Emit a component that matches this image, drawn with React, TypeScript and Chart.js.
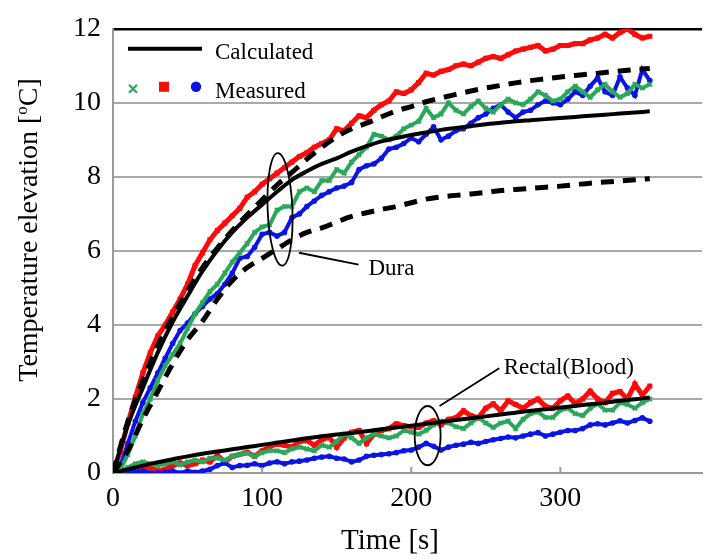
import React, { useEffect, useRef } from "react";
import { Chart, registerables } from "chart.js";

Chart.register(...registerables);

const SERIF = "'Liberation Serif', 'Times New Roman', Times, serif";
Chart.defaults.font.family = SERIF;

// ---- time grids ----
const tMeas = [
  0, 5, 10, 15, 20, 25, 30, 35, 40, 45,
  50, 55, 60, 65, 70, 75, 80, 85, 90, 95,
  100, 105, 110, 115, 120, 125, 130, 135, 140, 145,
  150, 155, 160, 165, 170, 175, 180, 185, 190, 195,
  200, 205, 210, 215, 220, 225, 230, 235, 240, 245,
  250, 255, 260, 265, 270, 275, 280, 285, 290, 295,
  300, 305, 310, 315, 320, 325, 330, 335, 340, 345,
  350, 355, 360,
];
const tCalc = [
  0, 10, 20, 30, 40, 50, 60, 70, 80, 90,
  100, 110, 120, 130, 140, 150, 160, 170, 180, 190,
  200, 210, 220, 230, 240, 250, 260, 270, 280, 290,
  300, 310, 320, 330, 340, 350, 360,
];

// ---- calculated (black) ----
const calcDura = [
  0, 1.3, 2.3, 3.25, 4.08, 4.78, 5.45, 6.02, 6.5, 6.9,
  7.25, 7.6, 7.92, 8.15, 8.35, 8.5, 8.68, 8.83, 8.96, 9.05,
  9.13, 9.2, 9.27, 9.32, 9.37, 9.42, 9.46, 9.5, 9.53, 9.56,
  9.59, 9.62, 9.65, 9.68, 9.71, 9.74, 9.77,
];
const calcDuraUpper = [
  0, 1.4, 2.5, 3.45, 4.22, 4.92, 5.55, 6.08, 6.55, 6.98,
  7.38, 7.78, 8.12, 8.48, 8.8, 9.08, 9.3, 9.45, 9.62, 9.78,
  9.9, 10.03, 10.13, 10.23, 10.32, 10.4, 10.47, 10.54, 10.6, 10.65,
  10.7, 10.74, 10.78, 10.82, 10.86, 10.9, 10.93,
];
const calcDuraLower = [
  0, 0.6, 1.45, 2.2, 2.95, 3.6, 4.1, 4.7, 5.2, 5.55,
  5.8, 6.05, 6.3, 6.5, 6.62, 6.78, 6.93, 7.03, 7.12, 7.2,
  7.3, 7.4, 7.46, 7.5, 7.54, 7.58, 7.63, 7.66, 7.69, 7.72,
  7.75, 7.79, 7.83, 7.86, 7.89, 7.92, 7.95,
];
const calcRectal = [
  0, 0.1, 0.2, 0.29, 0.37, 0.45, 0.52, 0.58, 0.64, 0.7,
  0.76, 0.82, 0.88, 0.94, 0.99, 1.04, 1.08, 1.13, 1.18, 1.23,
  1.28, 1.33, 1.38, 1.43, 1.48, 1.53, 1.58, 1.63, 1.68, 1.72,
  1.77, 1.81, 1.86, 1.9, 1.95, 1.99, 2.04,
];

// ---- measured ----
const redDura = [
  0, 0.6, 1.35, 2.05, 2.7, 3.25, 3.7, 4.0, 4.35, 4.7,
  5.1, 5.6, 5.95, 6.3, 6.55, 6.75, 6.95, 7.15, 7.45, 7.6,
  7.8, 7.95, 8.1, 8.25, 8.4, 8.55, 8.65, 8.8, 8.9, 9.0,
  9.3, 9.25, 9.45, 9.65, 9.6, 9.8, 9.95, 10.05, 10.3, 10.25,
  10.35, 10.55, 10.8, 10.75, 10.85, 10.9, 11.0, 11.05, 11.0, 11.1,
  11.2, 11.25, 11.2, 11.3, 11.4, 11.45, 11.5, 11.55, 11.4, 11.45,
  11.55, 11.55, 11.6, 11.6, 11.7, 11.75, 11.85, 11.75, 11.9, 12.0,
  11.85, 11.75, 11.8,
];
const greenDura = [
  0, 0.1, 0.5, 1.0, 1.6, 2.0, 2.5, 2.9, 3.2, 3.5,
  3.9, 4.3, 4.6, 4.9, 5.1, 5.4, 5.7, 5.95, 6.2, 6.5,
  6.65, 6.7, 7.1, 7.2, 7.2, 7.6, 7.7, 7.6, 7.9, 7.9,
  8.2, 8.1, 8.4, 8.6, 8.8, 9.15, 9.1, 9.0, 9.1, 9.3,
  9.4, 9.5, 9.85, 9.6, 9.7, 10.0, 9.8, 9.7, 9.9, 10.05,
  9.85, 9.75, 9.95, 10.1, 10.0, 9.95, 10.1, 10.3, 10.2, 10.05,
  10.1, 10.3, 10.45, 10.3, 10.15, 10.35, 10.5, 10.3, 10.15, 10.25,
  10.5, 10.4, 10.5,
];
const blueDura = [
  0, 0.2, 0.8, 1.4, 1.9, 2.3, 2.7, 3.1, 3.5, 3.85,
  4.05, 4.3, 4.5, 4.7, 4.85, 5.1, 5.4, 5.8, 5.85, 6.1,
  6.45, 6.5, 6.4, 6.5, 6.9, 7.0, 7.2, 7.35, 7.5, 7.6,
  7.7, 7.75, 7.85, 8.2, 8.3, 8.35, 8.5, 8.75, 8.8, 8.9,
  9.05, 8.95, 9.15, 9.35, 9.0, 9.1, 9.25, 9.3, 9.45, 9.6,
  9.7, 9.85, 9.95, 9.75, 9.6, 9.75, 9.8, 9.95, 10.05, 10.0,
  9.95, 10.1, 10.3, 10.2, 10.45, 10.67, 10.3, 10.2, 10.7, 10.4,
  10.2, 10.9, 10.6,
];
const redRectal = [
  0, 0, 0, 0.05, 0.1, 0.15, 0.05, 0.1, 0.2, 0.27,
  0.2, 0.25, 0.35, 0.3, 0.48, 0.3, 0.45, 0.5, 0.56, 0.45,
  0.6, 0.7, 0.8, 0.75, 0.7, 0.85, 0.88, 0.75, 0.9, 0.97,
  0.7, 0.95, 1.1, 1.15, 0.8, 1.05, 1.15, 1.2, 1.33, 1.28,
  1.25, 1.23, 1.35, 1.41, 1.3, 1.45, 1.49, 1.68, 1.55, 1.49,
  1.75, 1.87, 1.68, 1.95, 1.85, 1.75, 1.9, 2.0, 1.8, 1.75,
  1.95, 2.08, 1.87, 2.0, 2.21, 2.0, 1.9, 2.15, 2.2, 2.0,
  2.4, 2.1, 2.35,
];
const greenRectal = [
  0, 0.05, 0.15, 0.25, 0.3, 0.25, 0.2, 0.25, 0.3, 0.22,
  0.3, 0.35, 0.3, 0.4, 0.4, 0.35, 0.45, 0.5, 0.53, 0.45,
  0.55, 0.6, 0.6, 0.55, 0.65, 0.7, 0.65, 0.6, 0.75, 0.7,
  0.85, 1.05, 0.95, 0.8, 0.95, 1.05, 1.0, 0.95, 1.0, 1.15,
  1.1, 1.05, 1.15, 1.3, 1.4, 1.35, 1.25, 1.2, 1.35, 1.5,
  1.35, 1.23, 1.35, 1.4, 1.2, 1.45, 1.6, 1.65, 1.5, 1.5,
  1.7, 1.75, 1.6, 1.55, 1.75, 1.87, 1.7, 1.7, 1.9, 1.85,
  1.75, 1.9, 2.0,
];
const blueRectal = [
  0, 0, 0.05, 0.02, 0.05, 0, 0, 0.02, 0.05, 0,
  0.05, 0.02, 0.05, 0.1, 0.2, 0.27, 0.15, 0.2, 0.21, 0.25,
  0.2, 0.27, 0.3, 0.25, 0.3, 0.32, 0.35, 0.4, 0.43, 0.45,
  0.4, 0.38, 0.3, 0.35, 0.45, 0.48, 0.5, 0.52, 0.55, 0.6,
  0.62, 0.7, 0.8, 0.72, 0.62, 0.7, 0.75, 0.78, 0.83, 0.8,
  0.85, 0.9, 0.93, 0.97, 0.95, 1.0, 1.05, 1.09, 1.0, 1.05,
  1.1, 1.15, 1.15, 1.2, 1.3, 1.33, 1.3, 1.35, 1.41, 1.35,
  1.42, 1.49, 1.4,
];

// ---- ticks & text ----
const xTickValues = [0, 100, 200, 300];
const yTickValues = [0, 2, 4, 6, 8, 10, 12];
const xTitle = "Time [s]";
const yTitleParts = ["Temperature elevation [", "o", "C]"];
const legendCalculated = "Calculated";
const legendMeasured = "Measured";
const labelDura = "Dura";
const labelRectal = "Rectal(Blood)";

const RED = "#ff0a0a";
const GREEN = "#2aa85a";
const BLUE = "#0a14e6";

const pts = (xs: number[], ys: number[]) => xs.map((x, i) => ({ x, y: ys[i] }));

const overlay = {
  id: "overlay",
  afterDatasetsDraw(chart: any) {
    const { ctx, chartArea: ca, scales } = chart;
    const xs = scales.x;
    const ys = scales.y;
    const X = (v: number) => xs.getPixelForValue(v);
    const Y = (v: number) => ys.getPixelForValue(v);
    ctx.save();

    // inner tick marks on x axis
    ctx.strokeStyle = "#9a9a9a";
    ctx.lineWidth = 2;
    xTickValues.forEach((v) => {
      if (v === 0) return;
      ctx.beginPath();
      ctx.moveTo(X(v), ca.bottom);
      ctx.lineTo(X(v), ca.bottom - 6);
      ctx.stroke();
    });

    // legend
    const lx = ca.left;
    const ly = ca.top;
    ctx.strokeStyle = "#000";
    ctx.lineWidth = 4;
    ctx.beginPath();
    ctx.moveTo(lx + 15, ly + 20);
    ctx.lineTo(lx + 89, ly + 20);
    ctx.stroke();
    ctx.fillStyle = "#000";
    ctx.font = `23px ${SERIF}`;
    ctx.textAlign = "left";
    ctx.textBaseline = "alphabetic";
    ctx.fillText(legendCalculated, lx + 102, ly + 30);
    ctx.fillText(legendMeasured, lx + 102, ly + 69);
    // green x
    ctx.strokeStyle = GREEN;
    ctx.lineWidth = 2.2;
    const gx = lx + 20, gy = ly + 60;
    ctx.beginPath();
    ctx.moveTo(gx - 4, gy - 4); ctx.lineTo(gx + 4, gy + 4);
    ctx.moveTo(gx + 4, gy - 4); ctx.lineTo(gx - 4, gy + 4);
    ctx.stroke();
    // red square
    ctx.fillStyle = RED;
    ctx.fillRect(lx + 46, ly + 53, 10, 10);
    // blue circle
    ctx.fillStyle = BLUE;
    ctx.beginPath();
    ctx.arc(lx + 83, ly + 58, 5.2, 0, Math.PI * 2);
    ctx.fill();

    // annotations
    ctx.strokeStyle = "#000";
    ctx.lineWidth = 1.8;
    const ellipse = (t: number, v: number, dt: number, dv: number, rot: number) => {
      const cx = X(t), cy = Y(v);
      const rx = X(t + dt) - cx;
      const ry = cy - Y(v + dv);
      ctx.beginPath();
      ctx.ellipse(cx, cy, rx, ry, rot, 0, Math.PI * 2);
      ctx.stroke();
    };
    const line = (t1: number, v1: number, t2: number, v2: number) => {
      ctx.beginPath();
      ctx.moveTo(X(t1), Y(v1));
      ctx.lineTo(X(t2), Y(v2));
      ctx.stroke();
    };
    ellipse(112, 7.12, 8.3, 1.52, -0.04);
    line(124.7, 5.95, 164.7, 5.63);
    ellipse(211, 1.01, 8.7, 0.8, 0);
    line(219, 1.81, 259, 2.83);
    ctx.fillStyle = "#000";
    ctx.font = `23px ${SERIF}`;
    ctx.fillText(labelDura, X(171.3), Y(5.36));
    ctx.fillText(labelRectal, X(262), Y(2.67));

    // x title
    ctx.font = `29px ${SERIF}`;
    ctx.textAlign = "center";
    ctx.fillText(xTitle, 390, 549);

    // y title (rotated, with superscript)
    ctx.translate(37, 230);
    ctx.rotate(-Math.PI / 2);
    ctx.textAlign = "left";
    const big = `28px ${SERIF}`;
    const small = `17px ${SERIF}`;
    ctx.font = big;
    const w0 = ctx.measureText(yTitleParts[0]).width;
    const w2 = ctx.measureText(yTitleParts[2]).width;
    ctx.font = small;
    const w1 = ctx.measureText(yTitleParts[1]).width;
    let sx = -(w0 + w1 + w2) / 2;
    ctx.font = big;
    ctx.fillText(yTitleParts[0], sx, 0);
    sx += w0;
    ctx.font = small;
    ctx.fillText(yTitleParts[1], sx, -10);
    sx += w1;
    ctx.font = big;
    ctx.fillText(yTitleParts[2], sx, 0);

    ctx.restore();
  },
};

export default function App() {
  const canvasRef = useRef<HTMLCanvasElement | null>(null);

  useEffect(() => {
    if (!canvasRef.current) return;
    const measured = (data: number[], color: string, style: string, r: number, bw: number) => ({
      data: pts(tMeas, data),
      borderColor: color,
      backgroundColor: color,
      borderWidth: bw,
      pointStyle: style,
      pointRadius: r,
      pointBorderWidth: style === "crossRot" ? 2 : 0,
      pointBorderColor: color,
      pointBackgroundColor: color,
      tension: 0,
      order: 2,
    });
    const calc = (data: number[], dashed: boolean) => ({
      data: pts(tCalc, data),
      borderColor: "#000",
      borderWidth: dashed ? 5 : 4,
      borderDash: dashed ? [13, 9] : [],
      pointRadius: 0,
      cubicInterpolationMode: "monotone",
      order: 1,
    });

    const tickFont = { family: SERIF, size: 28 };

    const chart = new Chart(canvasRef.current, {
      type: "line",
      data: {
        datasets: [
          calc(calcDura, false),
          calc(calcDuraUpper, true),
          calc(calcDuraLower, true),
          calc(calcRectal, false),
          measured(greenDura, GREEN, "crossRot", 3, 4),
          measured(blueDura, BLUE, "circle", 2.8, 4),
          measured(redDura, RED, "rect", 3.6, 5),
          measured(greenRectal, GREEN, "crossRot", 3, 4),
          measured(blueRectal, BLUE, "circle", 2.8, 4),
          measured(redRectal, RED, "rect", 3.6, 5),
        ] as any,
      },
      options: {
        animation: false,
        responsive: true,
        maintainAspectRatio: false,
        layout: { padding: { top: 23, right: 2, left: 0, bottom: 0 } },
        plugins: {
          legend: { display: false },
          tooltip: { enabled: false },
          title: { display: false },
        },
        scales: {
          x: {
            type: "linear",
            min: 0,
            max: 395,
            afterBuildTicks: (s: any) => {
              s.ticks = xTickValues.map((v) => ({ value: v }));
            },
            afterFit: (s: any) => {
              s.height = 87;
            },
            grid: { drawOnChartArea: false, drawTicks: false },
            border: { color: "#9a9a9a", width: 2 },
            ticks: {
              font: tickFont,
              color: "#000",
              padding: 9,
              maxRotation: 0,
              autoSkip: false,
            },
          },
          y: {
            type: "linear",
            min: 0,
            max: 12,
            afterBuildTicks: (s: any) => {
              s.ticks = yTickValues.map((v) => ({ value: v }));
            },
            afterFit: (s: any) => {
              s.width = 113;
            },
            grid: {
              color: (c: any) => (c.tick && c.tick.value === 12 ? "#000" : "#a8a8a8"),
              lineWidth: (c: any) => (c.tick && c.tick.value === 12 ? 2.5 : 2),
              drawTicks: false,
            },
            border: { color: "#9a9a9a", width: 2 },
            ticks: {
              font: tickFont,
              color: "#000",
              padding: 12,
            },
          },
        },
      } as any,
      plugins: [overlay],
    });
    return () => chart.destroy();
  }, []);

  return (
    <div
      style={{
        position: "absolute",
        left: 0,
        top: 0,
        width: 708,
        height: 560,
        background: "#fff",
      }}
    >
      <canvas ref={canvasRef} />
    </div>
  );
}
